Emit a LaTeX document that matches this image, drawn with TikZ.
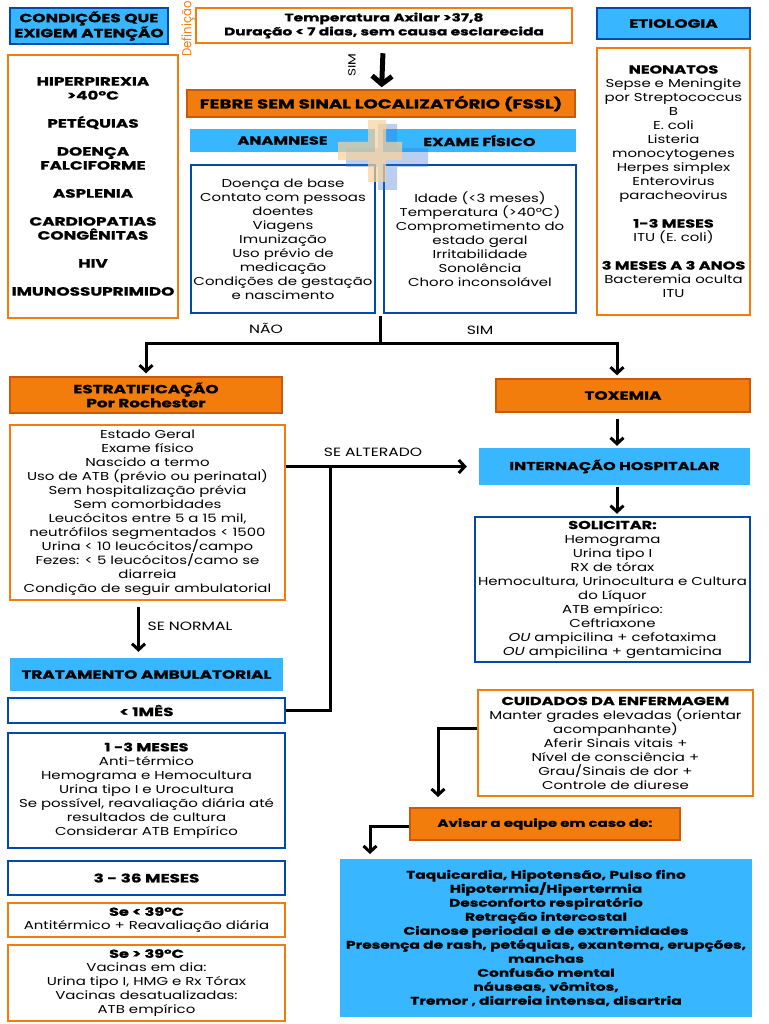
\documentclass[tikz,border=0pt]{standalone}
\usepackage{fontspec}
\setmainfont{Poppins}[FakeStretch=1.3, BoldFeatures={FakeStretch=1.4, FakeBold=1}]
\newfontfamily\estreita{Poppins}[FakeStretch=0.9]
\usetikzlibrary{arrows.meta}

\definecolor{azulClaro}{HTML}{38B6FF}
\definecolor{azulEscuro}{HTML}{004AAD}
\definecolor{laranja}{HTML}{F27D0C}
\definecolor{laranjaEscuro}{HTML}{C85A0A}
\definecolor{cruzLaranja}{HTML}{FAD29A}
\definecolor{cruzAzul}{HTML}{3A78D6}

\tikzset{
  every node/.style={align=center, inner sep=0pt, font=\fontsize{11.5}{14}\selectfont},
  caixa/.style 2 args={minimum width=#1pt, minimum height=#2pt},
  caixaAzul/.style={draw=azulEscuro, fill=azulClaro, line width=2.5pt},
  faixaAzul/.style={fill=azulClaro},
  caixaLaranja/.style={draw=laranjaEscuro, fill=laranja, line width=1.5pt},
  bordaLaranja/.style={draw=laranja, fill=white, line width=2.5pt},
  bordaAzul/.style={draw=azulEscuro, fill=white, line width=2.5pt},
  titulo/.style={font=\fontsize{12}{14}\selectfont\bfseries},
  rotulo/.style={font=\fontsize{12}{14}\selectfont},
  linha/.style={line width=3pt},
  seta/.style={linha, -{Straight Barb[length=6pt,width=13pt]}}
}

\begin{document}
\begin{tikzpicture}[x=1pt, y=-1pt]
\useasboundingbox[fill=white] (0,0) rectangle (768,1024);

% cabecalho
\node[caixaAzul, caixa={158}{36}, titulo] (condicoes) at (89,26) {CONDIÇÕES QUE\\EXIGEM ATENÇÃO};
\node[rotate=90, text=laranja, font=\estreita\fontsize{13}{14}\selectfont] (definicao) at (188,29) {Definição};
\node[bordaLaranja, caixa={376}{35}, font=\fontsize{11}{14}\selectfont\bfseries] (febre) at (384,25.5) {Temperatura Axilar >37,8\\Duração < 7 dias, sem causa esclarecida};
\node[caixaAzul, caixa={153}{31}, titulo] (etiologia) at (673.5,23.5) {ETIOLOGIA};
\node[caixaLaranja, caixa={388}{27}, font=\fontsize{13}{14}\selectfont\bfseries] (fssl) at (381,103.5) {FEBRE SEM SINAL LOCALIZATÓRIO (FSSL)};
\draw[line width=5pt, -{Straight Barb[length=8pt,width=20pt]}, shorten <=9pt, shorten >=2pt] (febre) -- (fssl);
\node[rotate=90, font=\fontsize{10.5}{12}\selectfont] (simDef) at (352,65) {SIM};

% colunas laterais
\node[bordaLaranja, caixa={170}{263}, titulo] (alerta) at (93,186.5)
  {HIPERPIREXIA\\>40°C\\[14pt]PETÉQUIAS\\[14pt]DOENÇA\\FALCIFORME\\[14pt]ASPLENIA\\[14pt]CARDIOPATIAS\\CONGÊNITAS\\[14pt]HIV\\[14pt]IMUNOSSUPRIMIDO};
\node[bordaLaranja, caixa={153}{267}] (causas) at (673.5,181.5)
  {\textbf{NEONATOS}\\Sepse e Meningite\\por Streptococcus\\B\\E. coli\\Listeria\\monocytogenes\\Herpes simplex\\Enterovirus\\paracheovirus\\[14pt]
   \textbf{1-3 MESES}\\ITU (E. coli)\\[14pt]\textbf{3 MESES A 3 ANOS}\\Bacteremia oculta\\ITU};

% anamnese e exame fisico
\node[faixaAzul, caixa={185}{23}, font=\fontsize{11.5}{14}\selectfont\bfseries] (anamnese) at (282.5,140.5) {ANAMNESE};
\node[faixaAzul, caixa={193}{23}, font=\fontsize{11.5}{14}\selectfont\bfseries] (exame) at (479.5,140.5) {EXAME FÍSICO};
\node[bordaAzul, caixa={184}{148}] (anamneseTxt) at (283,239)
  {Doença de base\\Contato com pessoas\\doentes\\Viagens\\Imunização\\Uso prévio de\\medicação\\Condições de gestação\\e nascimento};
\node[bordaAzul, caixa={192}{148}] (exameTxt) at (480,239)
  {Idade (<3 meses)\\Temperatura (>40°C)\\Comprometimento do\\estado geral\\Irritabilidade\\Sonolência\\Choro inconsolável};
% cruz decorativa
\fill[cruzAzul, opacity=0.35] (378,124) rectangle (397,190) (346,148) rectangle (428,167);
\fill[cruzLaranja, opacity=0.7] (368,120) rectangle (386,182) (338,142) rectangle (402,160);

% bifurcacao
\coordinate (topo) at (380,316);
\coordinate (meio) at (380,343);
\draw[linha] (topo) -- (meio);
\node[caixaLaranja, caixa={272}{36}, titulo] (estrat) at (146,395) {ESTRATIFICAÇÃO\\Por Rochester};
\node[caixaLaranja, caixa={254}{33}, titulo] (toxemia) at (623,395.5) {TOXEMIA};
\draw[seta, shorten >=3pt] (meio) -| (estrat.north);
\draw[seta, shorten >=3pt] (meio) -| ([xshift=-6pt]toxemia.north);
\node[rotulo] (nao) at (266,328) {NÃO};
\node[rotulo] (sim) at (480,330) {SIM};

% ramo da toxemia
\coordinate (eixo) at (617,0);
\node[faixaAzul, caixa={271}{37}, font=\fontsize{11.5}{14}\selectfont\bfseries] (internacao) at (614.5,466.5) {INTERNAÇÃO HOSPITALAR};
\node[bordaAzul, caixa={275}{145}] (solicitar) at (612.5,589.5)
  {\textbf{SOLICITAR:}\\Hemograma\\Urina tipo I\\RX de tórax\\Hemocultura, Urinocultura e Cultura\\do Líquor\\ATB empírico:\\Ceftriaxone\\\textit{OU} ampicilina + cefotaxima\\\textit{OU} ampicilina + gentamicina};
\draw[seta, shorten <=6pt, shorten >=2pt] (toxemia.south -| eixo) -- (internacao.north -| eixo);
\draw[seta, shorten <=2pt, shorten >=2pt] (internacao.south -| eixo) -- (solicitar.north -| eixo);

% ramo de Rochester
\node[bordaLaranja, caixa={275}{175}] (rochester) at (147.5,512.5)
  {Estado Geral\\Exame físico\\Nascido a termo\\Uso de ATB (prévio ou perinatal)\\Sem hospitalização prévia\\Sem comorbidades\\Leucócitos entre 5 a 15 mil,\\neutrófilos segmentados < 1500\\Urina < 10 leucócitos/campo\\Fezes: < 5 leucócitos/camo se\\diarreia\\Condição de seguir ambulatorial};
\draw[seta, shorten >=12pt] (internacao.west -| rochester.east) -- (internacao.west);
\node[rotulo] (alterado) at (373,452) {SE ALTERADO};
\node[faixaAzul, caixa={273}{33}, titulo] (ambulatorial) at (146.5,674.5) {TRATAMENTO AMBULATORIAL};
\draw[seta, shorten <=6pt, shorten >=6pt] ([xshift=-9pt]rochester.south) -- ([xshift=-8pt]ambulatorial.north);
\node[rotulo] (normal) at (190,626) {SE NORMAL};
\node[bordaAzul, caixa={277}{25}, titulo] (mes1) at (146.5,710.5) {< 1MÊS};
\coordinate (juncao) at (330,466.5);
\draw[linha] (mes1.east) -| (juncao);
\node[bordaAzul, caixa={277}{115}] (mes13) at (146.5,790.5)
  {\textbf{1 -3 MESES}\\Anti-térmico\\Hemograma e Hemocultura\\Urina tipo I e Urocultura\\Se possível, reavaliação diária até\\resultados de cultura\\Considerar ATB Empírico};
\node[bordaAzul, caixa={277}{34}, titulo] (mes336) at (146.5,878) {3 - 36 MESES};
\node[bordaLaranja, caixa={277}{34}] (menor39) at (146.5,920) {\textbf{Se < 39°C}\\Antitérmico + Reavaliação diária};
\node[bordaLaranja, caixa={277}{76}] (maior39) at (146.5,983)
  {\textbf{Se > 39°C}\\Vacinas em dia:\\Urina tipo I, HMG e Rx Tórax\\Vacinas desatualizadas:\\ATB empírico};

% enfermagem
\node[bordaLaranja, caixa={275}{106}] (cuidados) at (615.5,743)
  {\textbf{CUIDADOS DA ENFERMAGEM}\\Manter grades elevadas (orientar\\acompanhante)\\Aferir Sinais vitais +\\Nível de consciência +\\Grau/Sinais de dor +\\Controle de diurese};
\node[caixaLaranja, caixa={270}{32}, font=\fontsize{10.7}{14}\selectfont\bfseries] (avisar) at (545,824) {Avisar a equipe em caso de:};
\coordinate (pontaCuidados) at (438,797);
\draw[seta] ([yshift=15pt]cuidados.west) -| (pontaCuidados);
\node[faixaAzul, caixa={412}{158}, font=\fontsize{11}{14}\selectfont\bfseries] (sinais) at (546,938)
  {Taquicardia, Hipotensão, Pulso fino\\Hipotermia/Hipertermia\\Desconforto respiratório\\Retração intercostal\\Cianose periodal e de extremidades\\Presença de rash, petéquias, exantema, erupções,\\manchas\\Confusão mental\\náuseas, vômitos,\\Tremor , diarreia intensa, disartria};
\coordinate (pontaAvisar) at (370,854);
\draw[seta] ([yshift=-2pt]avisar.west) -| (pontaAvisar);

\end{tikzpicture}
\end{document}
